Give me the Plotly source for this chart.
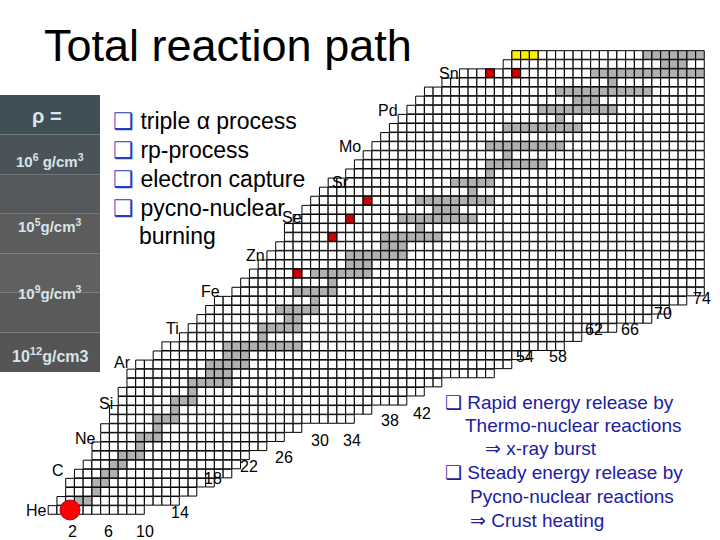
import plotly.graph_objects as go

# nuclide chart rows: proton number Z, lowest and highest neutron number drawn
z_vals = list(range(2, 53))
n_min = [0, 1, 2, 2, 3, 4, 5, 5, 6, 6, 7, 7, 8, 8, 9, 9, 10, 12, 13, 15, 16, 17, 18, 19, 21,
         22, 23, 24, 25, 26, 27, 27, 28, 29, 30, 31, 32, 34, 35, 36, 37, 38, 39, 40, 41,
         42, 43, 45, 47, 52, 53]
n_max = [10, 14, 16, 18, 20, 21, 22, 24, 26, 28, 34, 36, 40, 42, 44, 50, 52, 54, 58, 60, 64,
         68, 70, 72, 74] + [74] * 26
# stable (grey) neutron ranges per Z
gray_lo = [2, 3, 5, 5, 6, 7, 8, 10, 10, 12, 12, 14, 14, 16, 16, 18, 18, 20, 20, 24, 24, 27,
           26, 30, 28, 32, 30, 34, 34, 38, 38, 42, 40, 44, 42, 48, 46, 50, 50, 52, 50, 99,
           52, 58, 56, 60, 58, 64, 62, 70, 68]
gray_hi = [2, 4, 5, 6, 7, 8, 10, 10, 12, 12, 14, 14, 16, 16, 20, 20, 22, 22, 28, 24, 28, 28,
           30, 30, 32, 32, 36, 36, 40, 40, 44, 42, 48, 46, 50, 48, 50, 50, 56, 52, 58, 0,
           60, 58, 64, 62, 68, 64, 74, 72, 74]
red_n = [28, 32, 34, 36, 50, 53]
red_z = [28, 32, 34, 36, 50, 50]
yellow_n = [53, 54, 55]
yellow_z = [52, 52, 52]

elements = ["He", "C", "Ne", "Si", "Ar", "Ti", "Fe", "Zn", "Se", "Sr", "Mo", "Pd", "Sn"]
element_px = [(36, 510), (58, 470), (85, 438), (106, 403), (122, 362), (172, 328), (210, 291),
              (255, 255), (292, 218), (340, 182), (350, 146), (388, 110), (449, 73)]
n_labels = ["2", "6", "10", "14", "18", "22", "26", "30", "34", "38", "42", "54", "58",
            "62", "66", "70", "74"]
n_label_px = [(72, 531), (109, 531), (145, 531), (180, 512), (213, 478), (249, 466), (284, 457),
              (320, 440), (352, 440), (390, 420), (422, 413), (525, 356), (558, 356),
              (594, 329), (630, 329), (663, 313), (702, 298)]

wx, wz, gx, gz = [], [], [], []
for i, z in enumerate(z_vals):
    for n in range(n_min[i], n_max[i] + 1):
        if gray_lo[i] <= n <= gray_hi[i]:
            gx.append(n); gz.append(z)
        else:
            wx.append(n); wz.append(z)

cell = dict(symbol="square", size=8.6, line=dict(color="black", width=1))
fig = go.Figure()
fig.add_trace(go.Scatter(x=wx, y=wz, mode="markers", marker=dict(color="white", **cell)))
fig.add_trace(go.Scatter(x=gx, y=gz, mode="markers", marker=dict(color="#b0b0b0", **cell)))
fig.add_trace(go.Scatter(x=yellow_n, y=yellow_z, mode="markers", marker=dict(color="#ffee00", **cell)))
fig.add_trace(go.Scatter(x=red_n, y=red_z, mode="markers", marker=dict(color="#cc0000", **cell)))
fig.add_trace(go.Scatter(x=[2], y=[2], mode="markers",
                         marker=dict(color="#ff0000", size=20, line=dict(color="#aa0033", width=1))))

def px(x, y, text, size=16, color="black", anchor="center", family="Liberation Sans, Arial"):
    fig.add_annotation(x=x / 720, y=1 - y / 540, xref="paper", yref="paper", text=text,
                       showarrow=False, xanchor=anchor, yanchor="middle",
                       font=dict(size=size, color=color, family=family))

for name, (x, y) in zip(elements, element_px):
    px(x, y, name, size=16)
for lab, (x, y) in zip(n_labels, n_label_px):
    px(x, y, lab, size=16)

px(42, 46, "Total reaction path", size=45, anchor="left")

# density box
for k, c in enumerate(["#3f4f55", "#4a5458", "#55595b", "#5c5c5c", "#606060", "#5a5a5a", "#555555"]):
    fig.add_shape(type="rect", xref="paper", yref="paper", x0=0, x1=100 / 720,
                  y0=1 - (95 + (k + 1) * 277 / 7) / 540, y1=1 - (95 + k * 277 / 7) / 540,
                  fillcolor=c, line=dict(width=0), layer="below")
lb = "#d8e4ea"
px(47, 116, "<b>ρ =</b>", size=20, color=lb)
px(50, 160, "<b>10<sup>6</sup> g/cm<sup>3</sup></b>", size=15, color=lb)
px(50, 225, "<b>10<sup>5</sup>g/cm<sup>3</sup></b>", size=15, color=lb)
px(50, 292, "<b>10<sup>9</sup>g/cm<sup>3</sup></b>", size=15, color=lb)
px(50, 355, "<b>10<sup>12</sup>g/cm3</b>", size=16, color=lb)

bul = "<span style='color:#1f3fbf'>❑</span> "
px(111, 121, bul + "triple α process", size=23, anchor="left")
px(111, 150, bul + "rp-process", size=23, anchor="left")
px(111, 179, bul + "electron capture", size=23, anchor="left")
px(111, 208, bul + "pycno-nuclear", size=23, anchor="left")
px(137, 236, "burning", size=23, anchor="left")

blue = "#2020a0"
px(443, 402, "❑ Rapid energy release by", size=19, color=blue, anchor="left")
px(463, 425, "Thermo-nuclear reactions", size=19, color=blue, anchor="left")
px(483, 448, "⇒ x-ray burst", size=19, color=blue, anchor="left")
px(443, 472, "❑ Steady energy release by", size=19, color=blue, anchor="left")
px(468, 496, "Pycno-nuclear reactions", size=19, color=blue, anchor="left")
px(468, 520, "⇒ Crust heating", size=19, color=blue, anchor="left")

fig.update_layout(width=720, height=540, margin=dict(l=0, r=0, t=0, b=0), showlegend=False,
                  plot_bgcolor="white", paper_bgcolor="white",
                  xaxis=dict(range=[-6, 76.29], visible=False),
                  yaxis=dict(range=[-1.3, 58.04], visible=False))
fig.write_html("out.html", config={"displayModeBar": False},
               post_script="document.body.style.margin='0';")
